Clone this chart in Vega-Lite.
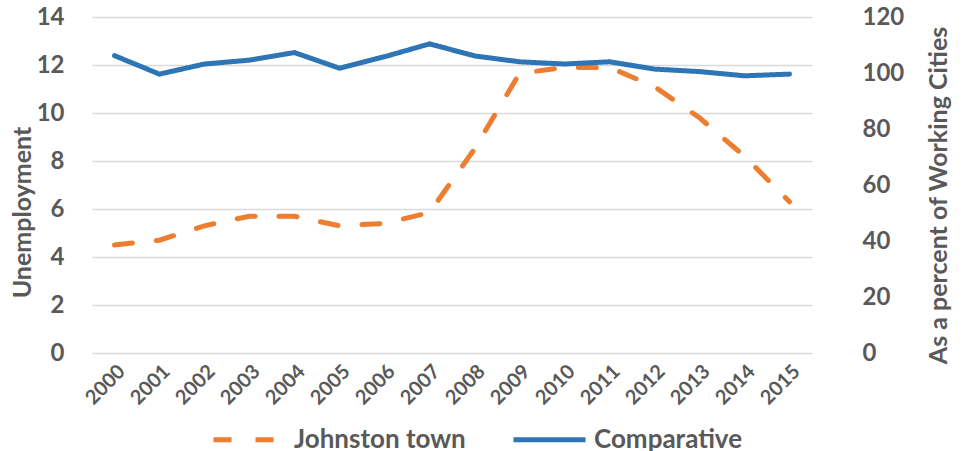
{
  "$schema": "https://vega.github.io/schema/vega-lite/v6.json",
  "width": 720,
  "height": 336,
  "autosize": "none",
  "padding": {"left": 92, "top": 17, "right": 154, "bottom": 98},
  "config": {
    "font": "Lato",
    "view": {"stroke": null},
    "axis": {
      "labelFont": "Lato",
      "labelFontWeight": "bold",
      "labelColor": "#595959",
      "titleFont": "Lato",
      "titleFontWeight": "bold",
      "titleColor": "#595959",
      "domain": false,
      "ticks": false
    }
  },
  "data": {
    "values": [
      {"year": "2000", "series": "Johnston town", "value": 4.5},
      {"year": "2001", "series": "Johnston town", "value": 4.7},
      {"year": "2002", "series": "Johnston town", "value": 5.3},
      {"year": "2003", "series": "Johnston town", "value": 5.7},
      {"year": "2004", "series": "Johnston town", "value": 5.7},
      {"year": "2005", "series": "Johnston town", "value": 5.3},
      {"year": "2006", "series": "Johnston town", "value": 5.4},
      {"year": "2007", "series": "Johnston town", "value": 5.85},
      {"year": "2008", "series": "Johnston town", "value": 8.5},
      {"year": "2009", "series": "Johnston town", "value": 11.65},
      {"year": "2010", "series": "Johnston town", "value": 11.9},
      {"year": "2011", "series": "Johnston town", "value": 11.9},
      {"year": "2012", "series": "Johnston town", "value": 11.1},
      {"year": "2013", "series": "Johnston town", "value": 9.8},
      {"year": "2014", "series": "Johnston town", "value": 8.2},
      {"year": "2015", "series": "Johnston town", "value": 6.3},
      {"year": "2000", "series": "Comparative", "value": 106.2},
      {"year": "2001", "series": "Comparative", "value": 99.6},
      {"year": "2002", "series": "Comparative", "value": 103.2},
      {"year": "2003", "series": "Comparative", "value": 104.6},
      {"year": "2004", "series": "Comparative", "value": 107.3},
      {"year": "2005", "series": "Comparative", "value": 101.7},
      {"year": "2006", "series": "Comparative", "value": 105.8},
      {"year": "2007", "series": "Comparative", "value": 110.4},
      {"year": "2008", "series": "Comparative", "value": 106.1},
      {"year": "2009", "series": "Comparative", "value": 104.0},
      {"year": "2010", "series": "Comparative", "value": 103.2},
      {"year": "2011", "series": "Comparative", "value": 104.0},
      {"year": "2012", "series": "Comparative", "value": 101.4},
      {"year": "2013", "series": "Comparative", "value": 100.5},
      {"year": "2014", "series": "Comparative", "value": 99.0},
      {"year": "2015", "series": "Comparative", "value": 99.6}
    ]
  },
  "encoding": {
    "x": {
      "field": "year",
      "type": "ordinal",
      "scale": {"type": "point", "padding": 0.5},
      "axis": {"title": null, "labelAngle": -45, "labelFontSize": 20, "labelPadding": 8, "grid": false}
    },
    "color": {
      "field": "series",
      "type": "nominal",
      "scale": {"domain": ["Johnston town", "Comparative"], "range": ["#ED7D31", "#2E75B6"]},
      "legend": {
        "title": null,
        "orient": "none",
        "direction": "horizontal",
        "legendX": 119,
        "legendY": 384,
        "symbolType": "stroke",
        "symbolSize": 5184,
        "symbolStrokeWidth": 5,
        "labelFontSize": 26,
        "labelFont": "Lato",
        "labelFontWeight": "bold",
        "labelColor": "#595959",
        "labelLimit": 400,
        "columnPadding": 37,
        "labelOffset": 6
      }
    },
    "strokeDash": {
      "field": "series",
      "type": "nominal",
      "scale": {"domain": ["Johnston town", "Comparative"], "range": [[18, 24], [1, 0]]},
      "legend": {"title": null}
    }
  },
  "layer": [
    {
      "transform": [{"filter": "datum.series === 'Johnston town'"}],
      "mark": {"type": "line", "strokeWidth": 5, "strokeCap": "round"},
      "encoding": {
        "y": {
          "field": "value",
          "type": "quantitative",
          "scale": {"domain": [0, 14]},
          "axis": {
            "title": "Unemployment",
            "values": [0, 2, 4, 6, 8, 10, 12, 14],
            "labelFontSize": 24,
            "labelPadding": 28,
            "titleFontSize": 25,
            "titleAngle": 270,
            "titleBaseline": "alphabetic",
            "titleX": -62,
            "titleY": 195,
            "grid": true,
            "gridColor": "#D9D9D9",
            "gridWidth": 1.5
          }
        }
      }
    },
    {
      "transform": [{"filter": "datum.series === 'Comparative'"}],
      "mark": {"type": "line", "strokeWidth": 5, "strokeCap": "round"},
      "encoding": {
        "y": {
          "field": "value",
          "type": "quantitative",
          "scale": {"domain": [0, 120]},
          "axis": {
            "orient": "right",
            "title": "As a percent of Working Cities",
            "values": [0, 20, 40, 60, 80, 100, 120],
            "labelFontSize": 24,
            "labelPadding": 28,
            "offset": 22,
            "titleFontSize": 25,
            "titleAngle": 270,
            "titleBaseline": "alphabetic",
            "titleX": 112,
            "titleY": 178,
            "grid": false
          }
        }
      }
    }
  ],
  "resolve": {"scale": {"y": "independent"}}
}
